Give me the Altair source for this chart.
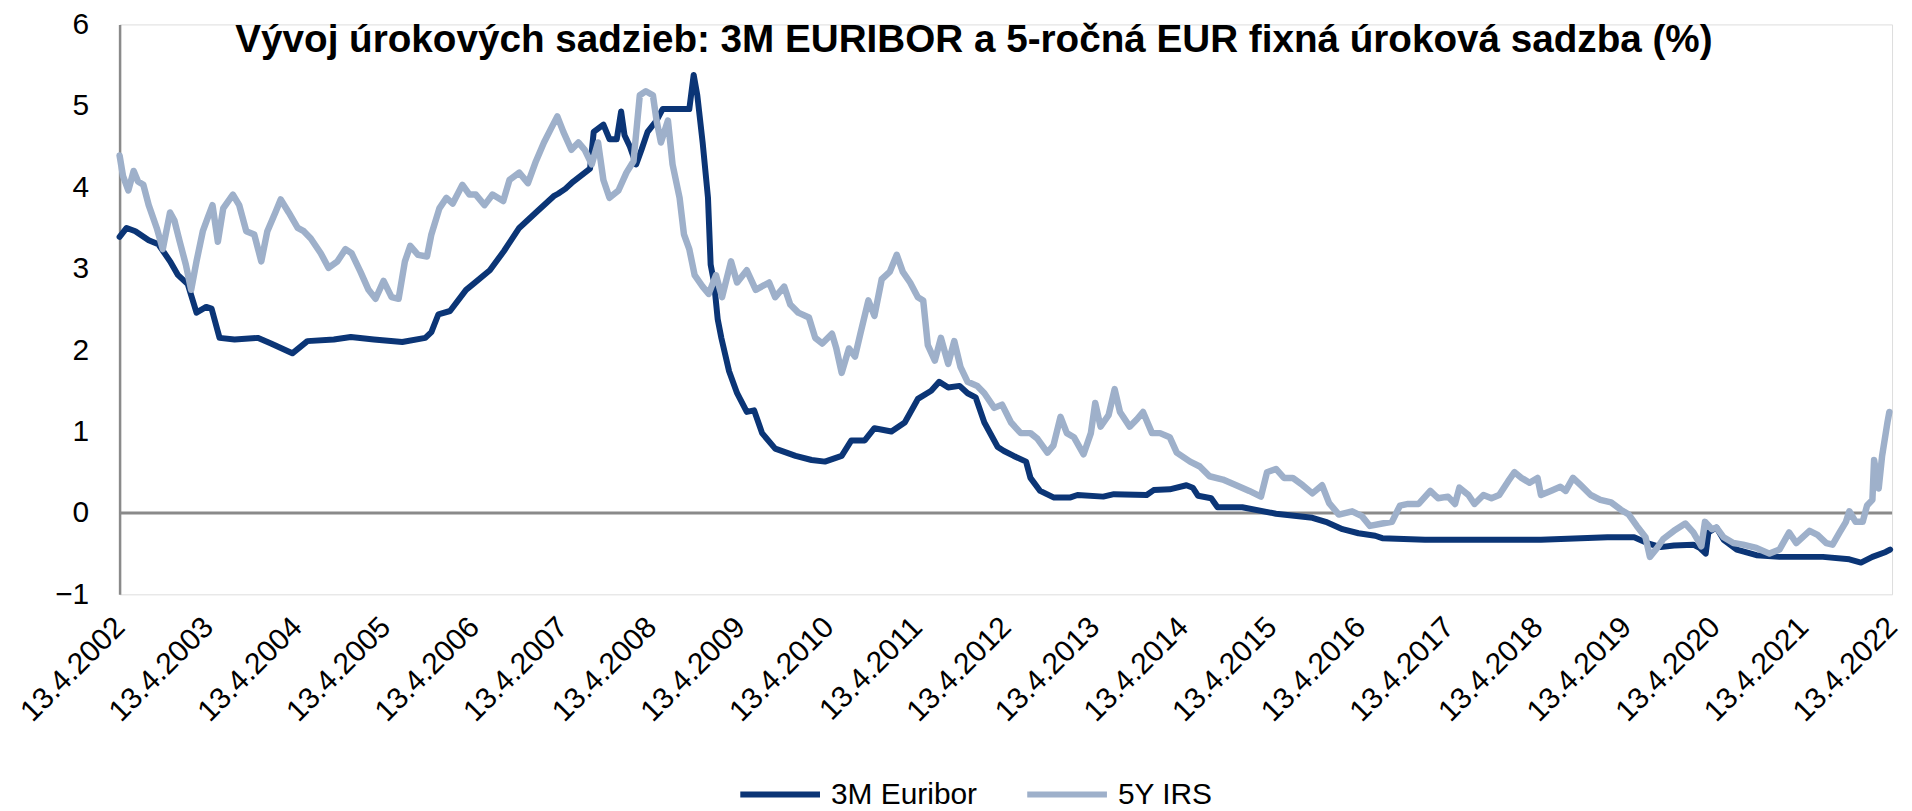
import altair as alt
import pandas as pd

# ---- data (t = years after 13.4.2002, value in %) ----
euribor_t = [0.00, 0.08, 0.18, 0.33, 0.44, 0.57, 0.66, 0.77, 0.87, 0.98, 1.04, 1.13, 1.30, 1.56, 1.71,
             1.95, 2.12, 2.42, 2.61, 2.87, 3.19, 3.45, 3.52, 3.60, 3.73, 3.91, 3.99, 4.18, 4.34, 4.51,
             4.70, 4.90, 4.95, 5.03, 5.12, 5.31, 5.35, 5.46, 5.53, 5.61, 5.66, 5.70, 5.76, 5.83, 5.89,
             5.96, 6.06, 6.13, 6.24, 6.43, 6.48, 6.52, 6.58, 6.64, 6.67, 6.71, 6.75, 6.79, 6.88, 6.97,
             7.08, 7.16, 7.25, 7.40, 7.63, 7.81, 7.96, 8.15, 8.26, 8.41, 8.52, 8.71, 8.86, 9.01, 9.16,
             9.25, 9.35, 9.48, 9.57, 9.66, 9.76, 9.91, 9.98, 10.09, 10.23, 10.28, 10.39, 10.54, 10.73,
             10.81, 11.10, 11.22, 11.59, 11.67, 11.85, 12.04, 12.11, 12.17, 12.32, 12.39, 12.67, 13.05,
             13.46, 13.61, 13.80, 13.98, 14.17, 14.25, 14.73, 15.14, 16.04, 16.79, 17.09, 17.24, 17.39,
             17.54, 17.76, 17.83, 17.90, 17.93, 18.02, 18.10, 18.25, 18.47, 18.73, 19.22, 19.52, 19.65,
             19.78, 19.93, 19.98]
euribor_v = [3.39, 3.50, 3.46, 3.35, 3.30, 3.09, 2.92, 2.81, 2.46, 2.53, 2.51, 2.15, 2.13, 2.15, 2.08,
             1.96, 2.11, 2.13, 2.16, 2.13, 2.10, 2.15, 2.22, 2.44, 2.48, 2.74, 2.81, 2.98, 3.22, 3.50,
             3.69, 3.89, 3.92, 3.98, 4.07, 4.23, 4.68, 4.77, 4.59, 4.59, 4.93, 4.64, 4.50, 4.28, 4.46,
             4.68, 4.82, 4.96, 4.96, 4.96, 5.38, 5.13, 4.55, 3.87, 3.05, 2.83, 2.38, 2.15, 1.74, 1.47,
             1.24, 1.26, 0.98, 0.79, 0.70, 0.65, 0.63, 0.70, 0.89, 0.89, 1.04, 1.00, 1.11, 1.40, 1.50,
             1.61, 1.54, 1.56, 1.47, 1.42, 1.11, 0.81, 0.76, 0.70, 0.63, 0.43, 0.27, 0.19, 0.19,
             0.22, 0.20, 0.23, 0.22, 0.28, 0.29, 0.34, 0.31, 0.21, 0.18, 0.07, 0.07, -0.01,
             -0.06, -0.11, -0.20, -0.25, -0.28, -0.31, -0.33, -0.33, -0.33, -0.30, -0.30, -0.37, -0.42,
             -0.40, -0.39, -0.43, -0.50, -0.24, -0.18, -0.33, -0.45, -0.52, -0.54, -0.54, -0.57, -0.61,
             -0.54, -0.48, -0.45]

irs_t = [0.00, 0.04, 0.10, 0.16, 0.21, 0.27, 0.33, 0.42, 0.49, 0.57, 0.62, 0.68, 0.75, 0.81, 0.87,
         0.94, 1.00, 1.05, 1.11, 1.17, 1.28, 1.35, 1.43, 1.52, 1.60, 1.67, 1.76, 1.82, 1.91, 2.01,
         2.08, 2.16, 2.27, 2.36, 2.46, 2.55, 2.62, 2.72, 2.81, 2.89, 2.98, 3.07, 3.15, 3.22, 3.28,
         3.37, 3.47, 3.52, 3.61, 3.69, 3.76, 3.87, 3.95, 4.02, 4.12, 4.21, 4.33, 4.40, 4.51, 4.61,
         4.70, 4.79, 4.87, 4.94, 5.01, 5.10, 5.18, 5.25, 5.33, 5.40, 5.46, 5.53, 5.63, 5.72, 5.80,
         5.87, 5.94, 6.02, 6.06, 6.11, 6.19, 6.24, 6.32, 6.37, 6.43, 6.49, 6.58, 6.65, 6.73, 6.80,
         6.90, 6.97, 7.08, 7.18, 7.33, 7.40, 7.50, 7.57, 7.66, 7.78, 7.85, 7.93, 8.04, 8.09, 8.15,
         8.23, 8.30, 8.36, 8.45, 8.52, 8.60, 8.69, 8.77, 8.84, 8.92, 9.01, 9.07, 9.12, 9.20, 9.27,
         9.35, 9.42, 9.49, 9.57, 9.68, 9.76, 9.87, 9.96, 10.06, 10.17, 10.28, 10.36, 10.47, 10.54,
         10.62, 10.69, 10.77, 10.88, 10.96, 11.01, 11.07, 11.16, 11.23, 11.29, 11.40, 11.48, 11.55,
         11.65, 11.74, 11.85, 11.93, 12.08, 12.19, 12.30, 12.45, 12.60, 12.75, 12.88, 12.95, 13.05,
         13.14, 13.24, 13.35, 13.46, 13.57, 13.65, 13.76, 13.91, 14.02, 14.11, 14.25, 14.36, 14.45,
         14.54, 14.66, 14.79, 14.88, 14.99, 15.07, 15.12, 15.22, 15.29, 15.39, 15.48, 15.57, 15.67,
         15.74, 15.82, 15.91, 16.00, 16.04, 16.15, 16.26, 16.32, 16.40, 16.49, 16.60, 16.71, 16.83,
         16.94, 17.03, 17.12, 17.22, 17.27, 17.35, 17.42, 17.54, 17.67, 17.76, 17.85, 17.89, 17.97,
         18.02, 18.10, 18.21, 18.32, 18.47, 18.62, 18.73, 18.84, 18.92, 19.07, 19.16, 19.26, 19.33,
         19.41, 19.48, 19.52, 19.59, 19.67, 19.72, 19.78, 19.80, 19.85, 19.89, 19.95, 19.97]
irs_v = [4.39, 4.14, 3.96, 4.20, 4.07, 4.03, 3.78, 3.50, 3.24, 3.69, 3.59, 3.33, 3.05, 2.74, 3.09,
         3.46, 3.64, 3.78, 3.33, 3.74, 3.91, 3.78, 3.46, 3.42, 3.09, 3.46, 3.69, 3.85, 3.69, 3.50,
         3.46, 3.37, 3.19, 3.01, 3.09, 3.24, 3.19, 2.96, 2.74, 2.63, 2.85, 2.65, 2.63, 3.09, 3.28,
         3.17, 3.15, 3.42, 3.74, 3.87, 3.80, 4.03, 3.91, 3.91, 3.78, 3.91, 3.83, 4.09, 4.18, 4.05,
         4.32, 4.55, 4.72, 4.87, 4.68, 4.46, 4.55, 4.46, 4.28, 4.55, 4.09, 3.87, 3.96, 4.18, 4.32,
         5.13, 5.18, 5.13, 4.82, 4.55, 4.82, 4.28, 3.87, 3.42, 3.24, 2.92, 2.78, 2.69, 2.92, 2.65,
         3.09, 2.83, 2.98, 2.74, 2.83, 2.65, 2.78, 2.56, 2.46, 2.40, 2.15, 2.08, 2.20, 2.02, 1.72,
         2.02, 1.92, 2.20, 2.61, 2.42, 2.87, 2.96, 3.17, 2.96, 2.83, 2.65, 2.61, 2.06, 1.87, 2.15,
         1.83, 2.11, 1.79, 1.61, 1.56, 1.47, 1.29, 1.33, 1.11, 0.98, 0.98, 0.91, 0.74, 0.83,
         1.18, 0.98, 0.93, 0.72, 0.98, 1.35, 1.06, 1.20, 1.52, 1.24, 1.06, 1.15, 1.24,
         0.98, 0.98, 0.93, 0.74, 0.63, 0.57, 0.45, 0.41, 0.34, 0.27, 0.20, 0.50, 0.54,
         0.43, 0.43, 0.34, 0.24, 0.34, 0.12, -0.02, 0.02, -0.04, -0.16, -0.13, -0.11, 0.09,
         0.11, 0.11, 0.27, 0.18, 0.20, 0.11, 0.31, 0.22, 0.11, 0.22, 0.18, 0.22, 0.39,
         0.50, 0.43, 0.37, 0.43, 0.22, 0.27, 0.32, 0.27, 0.43, 0.34, 0.22, 0.16, 0.13,
         0.04, -0.02, -0.16, -0.30, -0.54, -0.43, -0.32, -0.22, -0.13, -0.24, -0.41, -0.11, -0.20,
         -0.18, -0.30, -0.37, -0.39, -0.43, -0.50, -0.45, -0.24, -0.37, -0.22, -0.27, -0.37, -0.39,
         -0.24, -0.11, 0.02, -0.11, -0.11, 0.09, 0.16, 0.65, 0.30, 0.70, 1.11, 1.24]

series_names = ["3M Euribor", "5Y IRS"]
series_colors = ["#0b3576", "#9eb0ca"]
tick_years = list(range(2002, 2023))
title_text = "Vývoj úrokových sadzieb: 3M EURIBOR a 5-ročná EUR fixná úroková sadzba (%)"

START = pd.Timestamp("2002-04-13")


def to_dates(ts):
    return [(START + pd.Timedelta(days=t * 365.25)).strftime("%Y-%m-%d") for t in ts]


df_e = pd.DataFrame({"date": to_dates(euribor_t), "value": euribor_v, "series": series_names[0]})
df_i = pd.DataFrame({"date": to_dates(irs_t), "value": irs_v, "series": series_names[1]})

FONT = "Liberation Sans, Arial, sans-serif"

x_enc = alt.X(
    "date:T",
    scale=alt.Scale(
        type="utc",
        domain=[alt.DateTime(year=2002, month=4, date=13, utc=True),
                alt.DateTime(year=2022, month=4, date=13, utc=True)],
        nice=False,
    ),
    axis=alt.Axis(
        values=[alt.DateTime(year=y, month=4, date=13, utc=True) for y in tick_years],
        labelExpr="utcFormat(datum.value, '%-d.%-m.%Y')",
        labelAngle=315,
        labelAlign="right",
        labelBaseline="middle",
        labelPadding=28,
        labelFontSize=30,
        labelFont=FONT,
        labelColor="#000000",
        labelOverlap=False,
        labelFlush=False,
        labelBound=False,
        domain=False,
        ticks=False,
        tickSize=0,
        grid=False,
        title=None,
    ),
)

y_enc = alt.Y(
    "value:Q",
    scale=alt.Scale(domain=[-1, 6], nice=False, zero=False),
    axis=alt.Axis(
        values=[-1, 0, 1, 2, 3, 4, 5, 6],
        format="d",
        labelPadding=31,
        labelFontSize=30,
        labelFont=FONT,
        labelColor="#000000",
        domain=True,
        domainColor="#8a8a8a",
        domainWidth=2.5,
        ticks=False,
        tickSize=0,
        grid=False,
        title=None,
    ),
)

color_enc = alt.Color(
    "series:N",
    scale=alt.Scale(domain=series_names, range=series_colors),
    legend=alt.Legend(
        title=None,
        orient="none",
        legendX=620,
        legendY=730,
        direction="horizontal",
        symbolType="stroke",
        symbolSize=6400,
        symbolStrokeWidth=6,
        labelFontSize=30,
        labelFont=FONT,
        labelColor="#000000",
        labelOffset=8,
        columnPadding=38,
        padding=0,
    ),
)

zero = alt.Chart(pd.DataFrame({"v": [0]})).mark_rule(color="#8a8a8a", strokeWidth=3).encode(
    y=alt.Y("v:Q", scale=alt.Scale(domain=[-1, 6], nice=False, zero=False))
)

line_e = alt.Chart(df_e).mark_line(strokeWidth=6, strokeJoin="round", strokeCap="round").encode(
    x=x_enc, y=y_enc, color=color_enc
)
line_i = alt.Chart(df_i).mark_line(strokeWidth=6.5, strokeJoin="round", strokeCap="round").encode(
    x=x_enc, y=y_enc, color=color_enc
)

chart = (
    alt.layer(zero, line_e, line_i)
    .properties(
        width=1779,
        height=572,
        padding={"left": 112, "top": 15, "right": 12, "bottom": 216},
        autosize=alt.AutoSizeParams(type="none"),
        title=alt.Title(
            text=title_text,
            font=FONT,
            fontSize=38.8,
            fontWeight="bold",
            color="#000000",
            anchor="middle",
            frame="group",
            baseline="alphabetic",
            offset=0,
            dx=-32,
            dy=81,
        ),
    )
    .configure_view(stroke=None)
    .configure(background="white")
)

chart.save("out.html", embed_options={"renderer": "svg", "actions": False})
